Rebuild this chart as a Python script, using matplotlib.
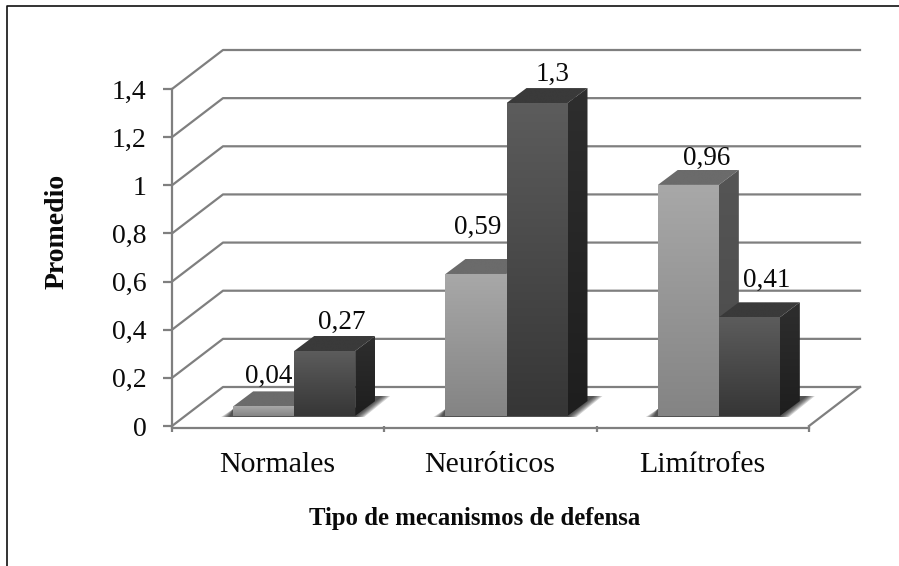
import numpy as np
import matplotlib
matplotlib.use("Agg")
import matplotlib.pyplot as plt
from matplotlib.lines import Line2D
from matplotlib.patches import Polygon
from matplotlib.transforms import Affine2D, IdentityTransform

categories = ["Normales", "Neuróticos", "Limítrofes"]
series_light = [0.04, 0.59, 0.96]
series_dark = [0.27, 1.3, 0.41]
light_labels = ["0,04", "0,59", "0,96"]
dark_labels = ["0,27", "1,3", "0,41"]
y_ticks = [0, 0.2, 0.4, 0.6, 0.8, 1, 1.2, 1.4]
y_tick_labels = ["0", "0,2", "0,4", "0,6", "0,8", "1", "1,2", "1,4"]

W, H = 899, 566
plt.rcParams["font.family"] = ["Liberation Serif", "DejaVu Serif"]

GRID = "#7f7f7f"
LW = 1.6
BACK = (51, 39)     # wall depth in px
DEPTH = (20, 15)    # bar depth in px
SHIFT = (16, 10)    # bars stand a bit inside the floor
BAR_W = 61 / 212.33

fig = plt.figure(figsize=(W / 100, H / 100), dpi=100)
ax = fig.add_axes([172 / W, (H - 426) / H, (809 - 172) / W, 337 / H])
ax.set_xlim(0, 3)
ax.set_ylim(0, 1.4)
ax.patch.set_visible(False)
for s in ax.spines.values():
    s.set_visible(False)

to_back = ax.transData + Affine2D().translate(*BACK)
to_bar = ax.transData + Affine2D().translate(*SHIFT)

# walls: tick on the front edge, diagonal, then the line along the back
for v in y_ticks:
    ax.plot([0, 0], [v, v], color=GRID, lw=LW, clip_on=False, zorder=1)
    a = ax.transData.transform((0, v))
    b = to_back.transform((0, v))
    c = to_back.transform((3, v))
    fig.add_artist(Line2D([a[0], b[0], c[0]], [a[1], b[1], c[1]], color=GRID, lw=LW,
                          transform=IdentityTransform(), zorder=0.5))
a = ax.transData.transform((3, 0))
b = to_back.transform((3, 0))
fig.add_artist(Line2D([a[0], b[0]], [a[1], b[1]], color=GRID, lw=LW,
                      transform=IdentityTransform(), zorder=0.5))

ax.set_zorder(2)
ax.axvline(0, color=GRID, lw=LW, clip_on=False, zorder=1)
ax.plot([0, 3], [-0.007, -0.007], color=GRID, lw=LW, clip_on=False, zorder=1)

ax.set_xticks([0, 1, 2, 3])
ax.set_xticklabels([])
ax.set_yticks(y_ticks)
ax.set_yticklabels(y_tick_labels, fontsize=20, color="#0a0a0a")
ax.tick_params(axis="y", length=6.5, width=LW, color=GRID, pad=12)
ax.tick_params(axis="x", length=4.5, width=LW, color=GRID)

for i, name in enumerate(categories):
    ax.annotate(name, (i + 0.5, 0), xytext=(-1, -46), xycoords="data", textcoords="offset pixels",
                ha="center", va="baseline", fontsize=21.5, color="#0a0a0a", annotation_clip=False)

zo = [3]


def face(corners, top, bottom):
    # one bar face, vertical gradient, clipped to its outline
    corners = np.array(corners)
    x0, y0 = corners.min(axis=0)
    x1, y1 = corners.max(axis=0)
    t = np.linspace(0, 1, 64)[:, None, None]
    img = (1 - t) * np.array(matplotlib.colors.to_rgb(top)) + t * np.array(matplotlib.colors.to_rgb(bottom))
    zo[0] += 1
    im = ax.imshow(img, extent=(x0, x1, y0, y1), origin="upper", aspect="auto",
                   transform=IdentityTransform(), zorder=zo[0], interpolation="bilinear")
    im.set_clip_box(fig.bbox)
    im.set_clip_path(Polygon(corners, transform=IdentityTransform()))


def shadow(x0, x1, y):
    # soft shadow on the floor, stacked see-through polygons
    for k in range(6):
        g = 5 - k * 1.6
        pts = [(x0 - 7 - g, y - 1), (x1 + 4 + g, y - 1), (x1 + 30 + g, y + 20),
               (x1 + 14, y + 20), (x1, y + 8), (x0, y + 7)]
        zo[0] += 1
        poly = Polygon(pts, closed=True, fc="#000000", ec="none", alpha=0.17,
                       transform=IdentityTransform(), zorder=zo[0], clip_on=False)
        ax.add_patch(poly)


def bar(left, right, value, colors):
    bl = to_bar.transform((left, 0))
    br = to_bar.transform((right, 0))
    tl = to_bar.transform((left, value))
    tr = to_bar.transform((right, value))
    dx, dy = DEPTH
    face([bl, br, tr, tl], colors[0], colors[1])
    face([tl, tr, tr + (dx, dy), tl + (dx, dy)], colors[2], colors[2])
    face([br, br + (dx, dy), tr + (dx, dy), tr], colors[3], colors[4])
    return tr


light_cols = ["#a8a8a8", "#848484", "#6b6b6b", "#555555", "#4a4a4a"]
dark_cols = ["#5c5c5c", "#363636", "#3a3a3a", "#2e2e2e", "#1e1e1e"]

# label offsets from the top of each front face (moved by hand in the original)
light_off = [(5, 23), (2, 40), (18, 20)]
dark_off = [(17, 22), (16, 22), (17, 30)]

for i in range(len(categories)):
    x_l = i + 0.5 - BAR_W
    x_m = i + 0.5
    x_r = i + 0.5 + BAR_W
    p0 = to_bar.transform((x_l, 0))
    p1 = to_bar.transform((x_r, 0))
    shadow(p0[0], p1[0], p0[1])
    bar(x_l, x_m, series_light[i], light_cols)
    bar(x_m, x_r, series_dark[i], dark_cols)

for i in range(len(categories)):
    for x_c, val, lab, off in [(i + 0.5 - BAR_W / 2, series_light[i], light_labels[i], light_off[i]),
                               (i + 0.5 + BAR_W / 2, series_dark[i], dark_labels[i], dark_off[i])]:
        p = to_bar.transform((x_c, val))
        ax.text(p[0] + off[0], p[1] + off[1], lab, transform=IdentityTransform(), ha="center",
                va="baseline", fontsize=19.5, color="#0a0a0a", zorder=50)

ax.set_xlim(0, 3)
ax.set_ylim(0, 1.4)

fig.text(57 / W, 1 - 231 / H, "Promedio", rotation=90, ha="center", va="center",
         fontsize=20, fontweight="bold", color="#0a0a0a")
fig.text(475 / W, 1 - 518 / H, "Tipo de mecanismos de defensa", ha="center", va="center",
         fontsize=17.8, fontweight="bold", color="#0a0a0a")

# outer frame, only left and top are in the scan
fig.add_artist(Line2D([7.3 / W, 7.3 / W, 1], [0, 1 - 5.5 / H, 1 - 5.5 / H], color="#111111", lw=1.2,
                      transform=fig.transFigure))

fig.savefig("out.png", dpi=100)
